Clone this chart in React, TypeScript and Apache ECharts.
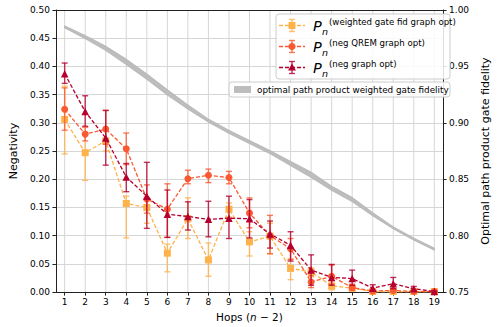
import React, { useEffect, useRef } from 'react';
import * as echarts from 'echarts';

const hops = [1, 2, 3, 4, 5, 6, 7, 8, 9, 10, 11, 12, 13, 14, 15, 16, 17, 18, 19];

// P_n (weighted gate fid graph opt)
const weightedVal = [0.306, 0.247, 0.268, 0.157, 0.150, 0.069, 0.130, 0.057, 0.147, 0.089, 0.099, 0.042, 0.036, 0.011, 0.007, 0.001, 0.001, 0.001, 0.001];
const weightedLow = [0.245, 0.198, 0.250, 0.096, 0.122, 0.036, 0.095, 0.028, 0.133, 0.064, 0.068, 0.022, 0.027, 0.004, 0.002, 0.0, 0.0, 0.0, 0.0];
const weightedHigh = [0.365, 0.280, 0.285, 0.170, 0.163, 0.085, 0.167, 0.087, 0.158, 0.107, 0.122, 0.058, 0.043, 0.020, 0.012, 0.002, 0.002, 0.002, 0.002];

// P_n (neg QREM graph opt)
const qremVal = [0.324, 0.280, 0.289, 0.254, 0.165, 0.147, 0.201, 0.207, 0.203, 0.140, 0.100, 0.077, 0.018, 0.028, 0.008, 0.002, 0.003, 0.001, 0.001];
const qremLow = [0.287, 0.268, 0.262, 0.226, 0.140, 0.097, 0.192, 0.194, 0.192, 0.114, 0.068, 0.058, 0.008, 0.014, 0.003, 0.0, 0.0, 0.0, 0.0];
const qremHigh = [0.362, 0.292, 0.322, 0.282, 0.190, 0.192, 0.216, 0.218, 0.214, 0.167, 0.136, 0.095, 0.029, 0.048, 0.014, 0.004, 0.006, 0.002, 0.002];

// P_n (neg graph opt)
const negVal = [0.387, 0.320, 0.273, 0.204, 0.170, 0.138, 0.134, 0.129, 0.131, 0.130, 0.103, 0.083, 0.039, 0.026, 0.024, 0.007, 0.015, 0.006, 0.001];
const negLow = [0.370, 0.294, 0.225, 0.178, 0.113, 0.097, 0.110, 0.098, 0.095, 0.096, 0.078, 0.055, 0.012, 0.012, 0.012, 0.002, 0.006, 0.002, 0.0];
const negHigh = [0.406, 0.348, 0.322, 0.228, 0.230, 0.181, 0.160, 0.161, 0.170, 0.164, 0.126, 0.107, 0.066, 0.049, 0.039, 0.013, 0.026, 0.010, 0.002];

// optimal path product weighted gate fidelity band (right axis)
const bandLower = [0.984, 0.9745, 0.964, 0.9515, 0.9385, 0.9245, 0.912, 0.9005, 0.8905, 0.8815, 0.8725, 0.862, 0.8515, 0.840, 0.830, 0.8175, 0.806, 0.796, 0.787];
const bandUpper = [0.986, 0.9775, 0.968, 0.9565, 0.9435, 0.9295, 0.916, 0.9035, 0.8935, 0.8845, 0.8755, 0.866, 0.8565, 0.844, 0.834, 0.8205, 0.808, 0.798, 0.789];

const FONT = '"DejaVu Sans", sans-serif';
const C_W = '#feb24c';
const C_Q = '#fa5a32';
const C_N = '#b5002f';
const AX = '#222222';
const GRID = '#d6d6d6';

function errorSeries(name: string, color: string, lows: number[], highs: number[], z: number) {
  return {
    type: 'custom',
    name,
    z,
    silent: true,
    xAxisIndex: 0,
    yAxisIndex: 0,
    data: hops.map((h, i) => [h, lows[i], highs[i]]),
    encode: { x: 0, y: [1, 2] },
    renderItem: (_params: any, api: any) => {
      const x = api.value(0);
      const lo = api.coord([x, api.value(1)]);
      const hi = api.coord([x, api.value(2)]);
      const cw = 3;
      const style = { stroke: color, lineWidth: 1.4, opacity: 0.8 };
      return {
        type: 'group',
        children: [
          { type: 'line', shape: { x1: lo[0], y1: lo[1], x2: hi[0], y2: hi[1] }, style },
          { type: 'line', shape: { x1: lo[0] - cw, y1: lo[1], x2: lo[0] + cw, y2: lo[1] }, style },
          { type: 'line', shape: { x1: hi[0] - cw, y1: hi[1], x2: hi[0] + cw, y2: hi[1] }, style },
        ],
      };
    },
  };
}

function lineSeries(name: string, color: string, vals: number[], symbol: string, size: number, z: number) {
  return {
    type: 'line',
    name,
    z,
    xAxisIndex: 0,
    yAxisIndex: 0,
    data: hops.map((h, i) => [h, vals[i]]),
    symbol,
    symbolSize: size,
    showSymbol: true,
    itemStyle: { color, borderWidth: 0 },
    lineStyle: { color, width: 1.3, type: [4, 2] },
    clip: false,
  };
}

function legendRow(y: number, color: string, marker: any, sup: string) {
  const hx = 292;
  const barStyle = { stroke: color, lineWidth: 1.4, opacity: 0.8 };
  return [
    { type: 'line', z: 101, shape: { x1: 279, y1: y, x2: 305, y2: y }, style: { stroke: color, lineWidth: 1.3, lineDash: [4, 2] } },
    { type: 'line', z: 101, shape: { x1: hx, y1: y - 6, x2: hx, y2: y + 6 }, style: barStyle },
    { type: 'line', z: 101, shape: { x1: hx - 3, y1: y - 6, x2: hx + 3, y2: y - 6 }, style: barStyle },
    { type: 'line', z: 101, shape: { x1: hx - 3, y1: y + 6, x2: hx + 3, y2: y + 6 }, style: barStyle },
    { ...marker, z: 102 },
    { type: 'text', z: 101, x: 313, y: y, style: { text: 'P', fontSize: 14.5, fontStyle: 'italic', fontFamily: FONT, fill: '#000', verticalAlign: 'middle' } },
    { type: 'text', z: 101, x: 322, y: y + 6, style: { text: 'n', fontSize: 9.5, fontStyle: 'italic', fontFamily: FONT, fill: '#000', verticalAlign: 'middle' } },
    { type: 'text', z: 101, x: 329, y: y - 3.5, style: { text: sup, fontSize: 8.6, fontFamily: FONT, fill: '#000', verticalAlign: 'middle' } },
  ];
}

export default function App() {
  const ref = useRef<HTMLDivElement>(null);

  useEffect(() => {
    document.body.style.margin = '0';
    if (!ref.current) return;
    const chart = echarts.init(ref.current, null, { renderer: 'svg' });

    const rows = [25.5, 46.5, 67.5];
    const graphic = [
      {
        type: 'rect',
        z: 100,
        shape: { x: 276, y: 14, width: 174, height: 65, r: 3 },
        style: { fill: 'rgba(255,255,255,0.85)', stroke: '#cccccc', lineWidth: 1 },
      },
      {
        type: 'rect',
        z: 100,
        shape: { x: 229, y: 82, width: 221, height: 15, r: 3 },
        style: { fill: 'rgba(255,255,255,0.85)', stroke: '#cccccc', lineWidth: 1 },
      },
      ...legendRow(rows[0], C_W, { type: 'rect', shape: { x: 288.5, y: rows[0] - 3.5, width: 7, height: 7 }, style: { fill: C_W } }, '(weighted gate fid graph opt)'),
      ...legendRow(rows[1], C_Q, { type: 'circle', shape: { cx: 292, cy: rows[1], r: 3.6 }, style: { fill: C_Q } }, '(neg QREM graph opt)'),
      ...legendRow(rows[2], C_N, { type: 'polygon', shape: { points: [[292, rows[2] - 4], [288, rows[2] + 3], [296, rows[2] + 3]] }, style: { fill: C_N } }, '(neg graph opt)'),
      { type: 'rect', z: 101, shape: { x: 234, y: 86, width: 17, height: 7 }, style: { fill: '#bdbdbd' } },
      { type: 'text', z: 101, x: 257, y: 89.5, style: { text: 'optimal path product weighted gate fidelity', fontSize: 8.8, fontFamily: FONT, fill: '#000', verticalAlign: 'middle' } },
    ];

    const option: any = {
      animation: false,
      backgroundColor: '#ffffff',
      textStyle: { fontFamily: FONT },
      grid: { left: 45, right: 46, top: 10, bottom: 34, containLabel: false },
      xAxis: [
        {
          type: 'value',
          min: 0.575,
          max: 19.425,
          name: '{a|Hops (}{i|n}{a| − 2)}',
          nameLocation: 'middle',
          nameGap: 17,
          nameTextStyle: {
            rich: {
              a: { fontSize: 10.5, fontFamily: FONT, color: '#000' },
              i: { fontSize: 10.5, fontFamily: FONT, fontStyle: 'italic', color: '#000' },
            },
          },
          axisLine: { show: true, lineStyle: { color: AX, width: 1 } },
          axisTick: { show: true, customValues: hops, length: 3.5, lineStyle: { color: AX } },
          axisLabel: { customValues: hops, fontSize: 9, fontFamily: FONT, color: '#000', margin: 5 },
          splitLine: { show: false },
        },
        {
          type: 'value',
          position: 'top',
          min: 0.575,
          max: 19.425,
          axisLine: { show: true, lineStyle: { color: AX, width: 1 } },
          axisTick: { show: false },
          axisLabel: { show: false },
          splitLine: { show: false },
        },
      ],
      yAxis: [
        {
          type: 'value',
          min: 0,
          max: 0.5,
          interval: 0.05,
          name: 'Negativity',
          nameLocation: 'middle',
          nameGap: 30,
          nameRotate: 90,
          nameTextStyle: { fontSize: 11, fontFamily: FONT, color: '#000' },
          axisLine: { show: true, lineStyle: { color: AX, width: 1 } },
          axisTick: { show: true, length: 3.5, lineStyle: { color: AX } },
          axisLabel: { fontSize: 9, fontFamily: FONT, color: '#000', margin: 6, formatter: (v: number) => v.toFixed(2) },
          splitLine: { show: true, lineStyle: { color: GRID, width: 1 } },
        },
        {
          type: 'value',
          position: 'right',
          min: 0.75,
          max: 1.0,
          interval: 0.05,
          name: 'Optimal path product gate fidelity',
          nameLocation: 'middle',
          nameGap: 30,
          nameRotate: 90,
          nameTextStyle: { fontSize: 11, fontFamily: FONT, color: '#000' },
          axisLine: { show: true, lineStyle: { color: AX, width: 1 } },
          axisTick: { show: true, length: 3.5, lineStyle: { color: AX } },
          axisLabel: { fontSize: 9, fontFamily: FONT, color: '#000', margin: 6, formatter: (v: number) => v.toFixed(2) },
          splitLine: { show: false },
        },
      ],
      series: [
        {
          type: 'custom',
          name: 'vgrid',
          xAxisIndex: 0,
          yAxisIndex: 0,
          z: 0,
          silent: true,
          data: hops.map((h) => [h]),
          encode: { x: 0 },
          renderItem: (_params: any, api: any) => {
            const b = api.coord([api.value(0), 0]);
            const t = api.coord([api.value(0), 0.5]);
            return { type: 'line', shape: { x1: b[0], y1: b[1], x2: t[0], y2: t[1] }, style: { stroke: GRID, lineWidth: 1 } };
          },
        },
        {
          type: 'custom',
          name: 'optimal path product weighted gate fidelity',
          xAxisIndex: 0,
          yAxisIndex: 1,
          z: 2,
          silent: true,
          data: hops.map((h, i) => [h, bandLower[i], bandUpper[i]]),
          encode: { x: 0, y: [1, 2] },
          renderItem: (params: any, api: any) => {
            if (params.dataIndex !== 0) return null;
            const up = hops.map((h, i) => api.coord([h, bandUpper[i]]));
            const lo = hops.map((h, i) => api.coord([h, bandLower[i]])).reverse();
            return {
              type: 'polygon',
              shape: { points: [...up, ...lo] },
              style: { fill: '#bdbdbd', stroke: '#a9a9a9', lineWidth: 0.6 },
            };
          },
        },
        errorSeries('errWeighted', C_W, weightedLow, weightedHigh, 3),
        lineSeries('P_n (weighted gate fid graph opt)', C_W, weightedVal, 'rect', 7, 4),
        errorSeries('errQrem', C_Q, qremLow, qremHigh, 5),
        lineSeries('P_n (neg QREM graph opt)', C_Q, qremVal, 'circle', 7, 6),
        errorSeries('errNeg', C_N, negLow, negHigh, 7),
        lineSeries('P_n (neg graph opt)', C_N, negVal, 'triangle', 7.5, 8),
      ],
      graphic,
    };

    chart.setOption(option);
    return () => chart.dispose();
  }, []);

  return <div ref={ref} style={{ width: 499, height: 327, position: 'absolute', left: 0, top: 0 }} />;
}
